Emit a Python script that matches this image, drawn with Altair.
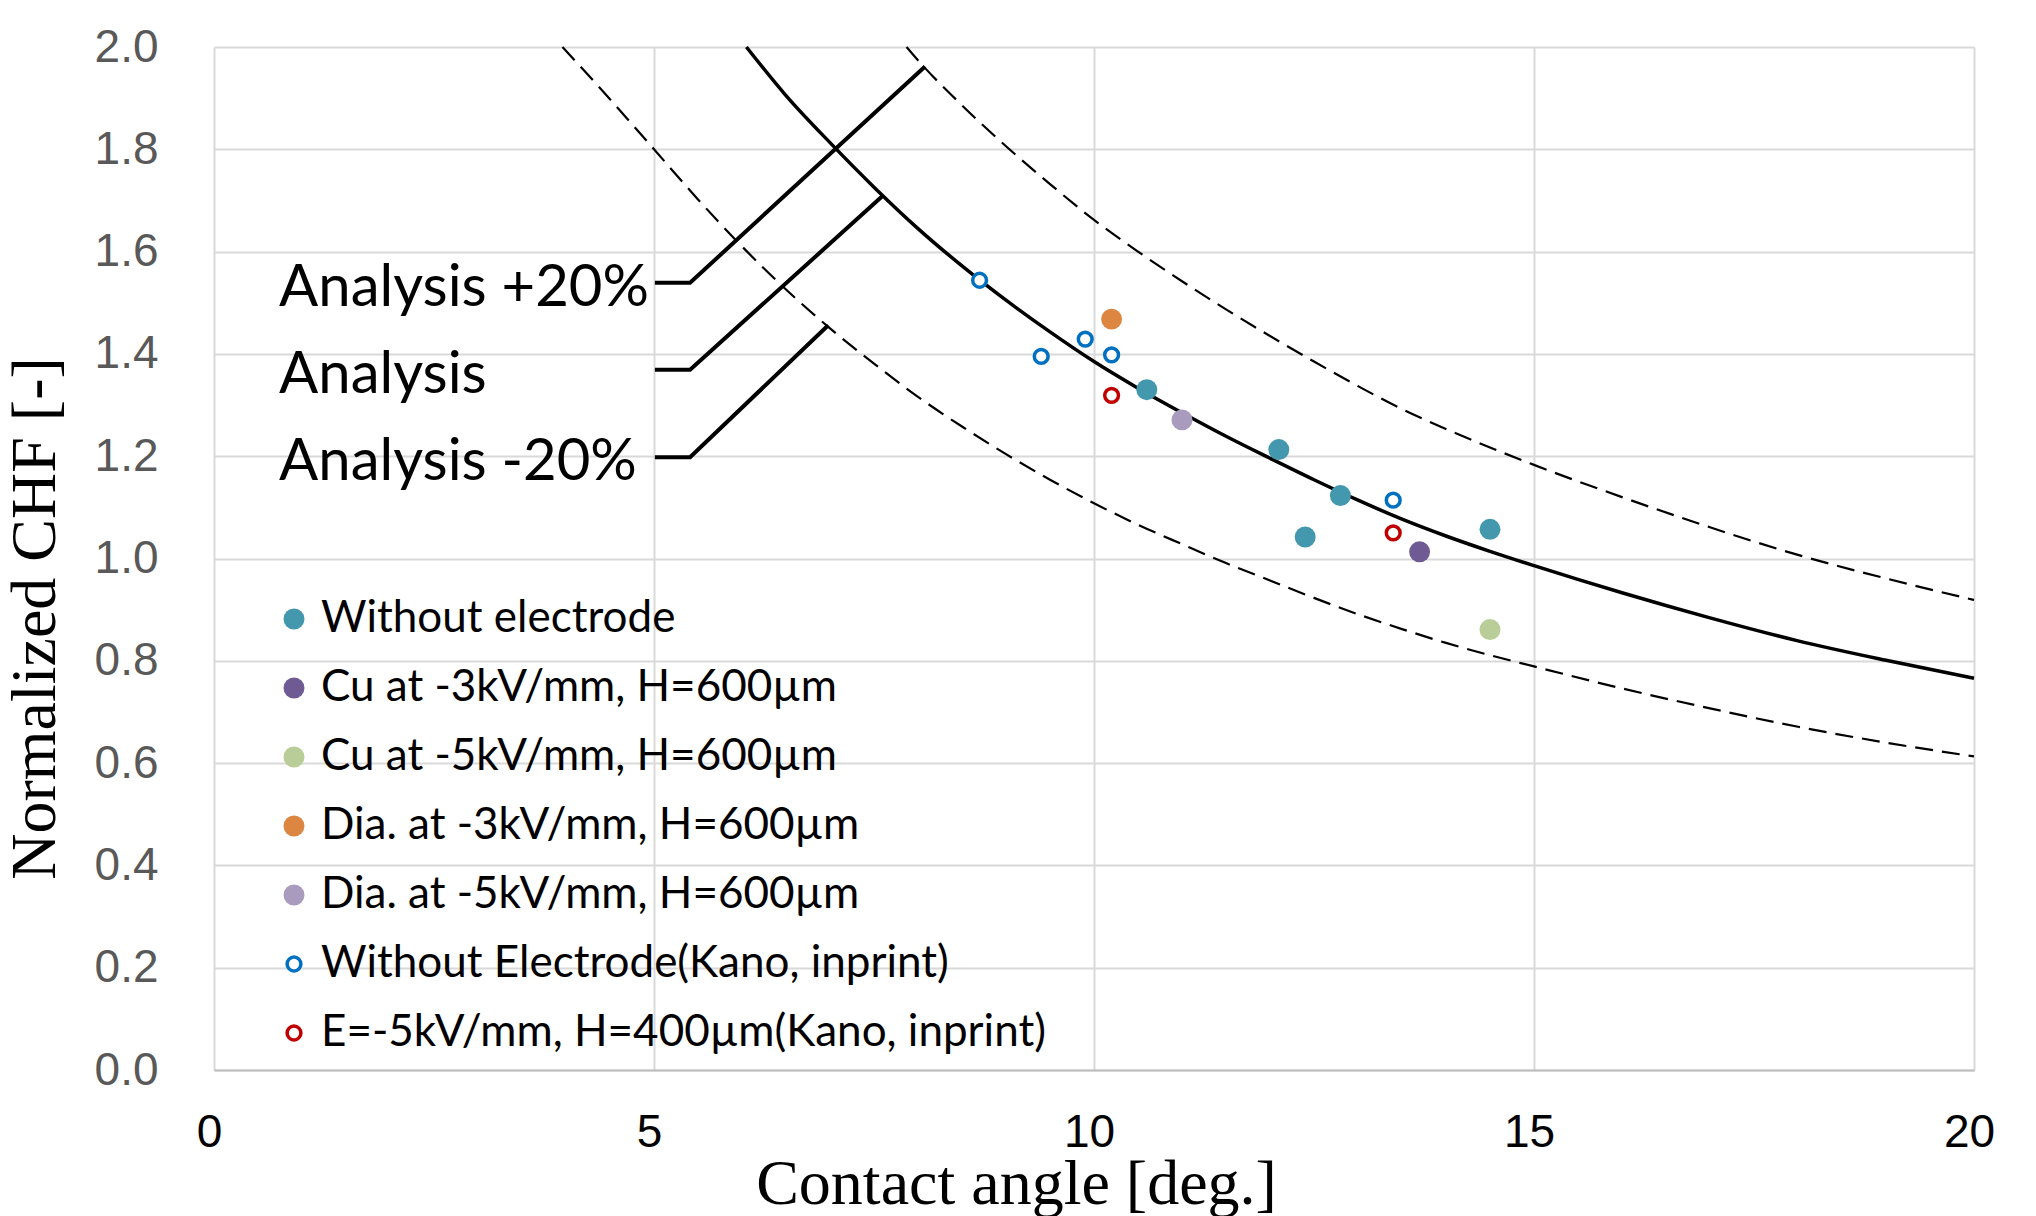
import altair as alt
import pandas as pd

# ---------------- data ----------------
# Analysis curve
ana_x = [6.05, 6.5, 7.0, 7.5, 8.0, 8.5, 9.0, 9.5, 10.0, 10.5, 11.0, 11.5, 12.0,
         12.5, 13.0, 13.5, 14.0, 14.5, 15.0, 16.0, 17.0, 18.0, 19.0, 20.0]
ana_y = [2.000, 1.905, 1.813, 1.726, 1.645, 1.572, 1.505, 1.443, 1.385, 1.333, 1.285, 1.239, 1.196,
         1.154, 1.114, 1.077, 1.044, 1.014, 0.986, 0.933, 0.884, 0.839, 0.801, 0.766]
# Analysis +20%
up_x = [7.87, 8.0, 8.5, 9.0, 9.5, 10.0, 10.5, 11.0, 11.5, 12.0, 12.5, 13.0, 13.5,
        14.0, 14.5, 15.0, 16.0, 17.0, 18.0, 19.0, 20.0]
up_y = [2.000, 1.974, 1.886, 1.806, 1.732, 1.662, 1.600, 1.542, 1.487, 1.435, 1.385, 1.337, 1.292,
        1.253, 1.217, 1.183, 1.120, 1.061, 1.007, 0.961, 0.919]
# Analysis -20%
lo_x = [3.96, 4.5, 5.0, 5.5, 6.0, 6.5, 7.0, 7.5, 8.0, 8.5, 9.0, 9.5, 10.0, 10.5, 11.0,
        11.5, 12.0, 12.5, 13.0, 13.5, 14.0, 14.5, 15.0, 16.0, 17.0, 18.0, 19.0, 20.0]
lo_y = [2.000, 1.898, 1.800, 1.702, 1.610, 1.526, 1.450, 1.381, 1.316, 1.258, 1.204, 1.154, 1.108,
        1.066, 1.028, 0.991, 0.957, 0.923, 0.891, 0.862, 0.835, 0.811, 0.789, 0.746, 0.707,
        0.671, 0.640, 0.613]

series_names = [
    "Without electrode",
    "Cu at -3kV/mm, H=600µm",
    "Cu at -5kV/mm, H=600µm",
    "Dia. at -3kV/mm, H=600µm",
    "Dia. at -5kV/mm, H=600µm",
    "Without Electrode(Kano, inprint)",
    "E=-5kV/mm, H=400µm(Kano, inprint)",
]
wo_x = [10.6, 12.1, 12.8, 12.4, 14.5]
wo_y = [1.330, 1.213, 1.123, 1.042, 1.057]
cu3_x = [13.7]
cu3_y = [1.013]
cu5_x = [14.5]
cu5_y = [0.861]
dia3_x = [10.2]
dia3_y = [1.468]
dia5_x = [11.0]
dia5_y = [1.271]
kano_x = [8.7, 9.4, 9.9, 10.2, 13.4]
kano_y = [1.544, 1.395, 1.429, 1.398, 1.114]
e5_x = [10.2, 13.4]
e5_y = [1.319, 1.050]

stroke_colors = ["#4398AE", "#705A93", "#B8CD97", "#DD8642", "#A99BBE", "#0070C0", "#C00000"]
fill_colors = ["#4398AE", "#705A93", "#B8CD97", "#DD8642", "#A99BBE", "#FFFFFF", "#FFFFFF"]
stroke_widths = [0, 0, 0, 0, 0, 3.5, 3.5]
sizes = [440, 440, 440, 440, 440, 190, 190]

# annotations
ann_text = ["Analysis +20%", "Analysis", "Analysis -20%"]
ann_x = [0.74, 0.74, 0.74]
ann_y = [1.494, 1.324, 1.154]
lead_group = ["p", "p", "p", "a", "a", "a", "m", "m", "m"]
lead_order = [0, 1, 2, 0, 1, 2, 0, 1, 2]
lead_x = [5.01, 5.41, 8.08, 5.01, 5.41, 7.60, 5.01, 5.41, 6.98]
lead_y = [1.539, 1.539, 1.962, 1.369, 1.369, 1.709, 1.198, 1.198, 1.456]

# ---------------- tables ----------------
curves = pd.concat([
    pd.DataFrame({"x": ana_x, "y": ana_y, "curve": "Analysis"}),
    pd.DataFrame({"x": up_x, "y": up_y, "curve": "Analysis +20%"}),
    pd.DataFrame({"x": lo_x, "y": lo_y, "curve": "Analysis -20%"}),
], ignore_index=True)

pts = []
for name, xs_, ys_ in zip(series_names,
                          [wo_x, cu3_x, cu5_x, dia3_x, dia5_x, kano_x, e5_x],
                          [wo_y, cu3_y, cu5_y, dia3_y, dia5_y, kano_y, e5_y]):
    pts.append(pd.DataFrame({"x": xs_, "y": ys_, "series": name}))
points = pd.concat(pts, ignore_index=True)

ann = pd.DataFrame({"x": ann_x, "y": ann_y, "t": ann_text})
leads = pd.DataFrame({"x": lead_x, "y": lead_y, "g": lead_group, "o": lead_order})

# ---------------- chart ----------------
xs = alt.Scale(domain=[0, 20], nice=False, zero=False)
ys = alt.Scale(domain=[0, 2], nice=False, zero=False)

x_axis = alt.Axis(
    values=[0, 5, 10, 15, 20], format="d", title="Contact angle [deg.]",
    grid=True, gridColor="#d9d9d9", gridWidth=2,
    domain=True, domainColor="#bfbfbf", domainWidth=2, ticks=False,
    labelFont="Liberation Sans", labelFontSize=46, labelColor="#000000",
    labelPadding=40, labelFlush=False, labelOffset=-5,
    titleFont="Liberation Serif", titleFontSize=64, titleFontWeight="normal",
    titleColor="#000000", titleX=802, titleY=133, titleAlign="center",
    titleBaseline="alphabetic",
)
y_axis = alt.Axis(
    values=[0, 0.2, 0.4, 0.6, 0.8, 1.0, 1.2, 1.4, 1.6, 1.8, 2.0], format=".1f",
    title="Normalized CHF [-]",
    grid=True, gridColor="#d9d9d9", gridWidth=2,
    domain=False, ticks=False,
    labelFont="Liberation Sans", labelFontSize=46, labelColor="#595959",
    labelPadding=56,
    titleFont="Liberation Serif", titleFontSize=64, titleFontWeight="normal",
    titleColor="#000000", titleAngle=270, titleX=-160, titleY=571,
    titleAlign="center", titleBaseline="alphabetic",
)

base_axes = alt.Chart(curves).mark_line(opacity=0).encode(
    x=alt.X("x:Q", scale=xs, axis=x_axis),
    y=alt.Y("y:Q", scale=ys, axis=y_axis),
    detail="curve:N",
)

solid = alt.Chart(curves[curves.curve == "Analysis"]).mark_line(
    color="#000000", strokeWidth=3.5, interpolate="monotone"
).encode(x=alt.X("x:Q", scale=xs), y=alt.Y("y:Q", scale=ys))

dashed = alt.Chart(curves[curves.curve != "Analysis"]).mark_line(
    color="#000000", strokeWidth=2.2, strokeDash=[18, 9], interpolate="monotone"
).encode(x=alt.X("x:Q", scale=xs), y=alt.Y("y:Q", scale=ys), detail="curve:N")

leader = alt.Chart(leads).mark_line(color="#000000", strokeWidth=4).encode(
    x=alt.X("x:Q", scale=xs), y=alt.Y("y:Q", scale=ys), detail="g:N", order="o:Q"
)

labels = alt.Chart(ann).mark_text(
    align="left", baseline="alphabetic", font="Lato", fontSize=58, color="#000000"
).encode(x=alt.X("x:Q", scale=xs), y=alt.Y("y:Q", scale=ys), text="t:N")

legend = alt.Legend(
    title=None, orient="none", legendX=58, legendY=550,
    labelFont="Lato", labelFontSize=44, labelColor="#000000",
    rowPadding=25, labelOffset=5, symbolType="circle", padding=0,
    labelLimit=1000,
)

scatter = alt.Chart(points).mark_circle(opacity=1).encode(
    x=alt.X("x:Q", scale=xs),
    y=alt.Y("y:Q", scale=ys),
    fill=alt.Fill("series:N", scale=alt.Scale(domain=series_names, range=fill_colors), legend=legend),
    stroke=alt.Stroke("series:N", scale=alt.Scale(domain=series_names, range=stroke_colors), legend=legend),
    strokeWidth=alt.StrokeWidth("series:N", scale=alt.Scale(type="ordinal", domain=series_names, range=stroke_widths), legend=legend),
    size=alt.Size("series:N", scale=alt.Scale(type="ordinal", domain=series_names, range=sizes), legend=legend),
)

chart = alt.layer(base_axes, dashed, solid, leader, labels, scatter).properties(
    width=1760, height=1023,
    autosize=alt.AutoSizeParams(type="none"),
    padding={"left": 206, "top": 39, "right": 40, "bottom": 146},
    background="#ffffff",
).configure_view(stroke=None)

chart.save("out.html", embed_options={"renderer": "svg", "actions": False})
